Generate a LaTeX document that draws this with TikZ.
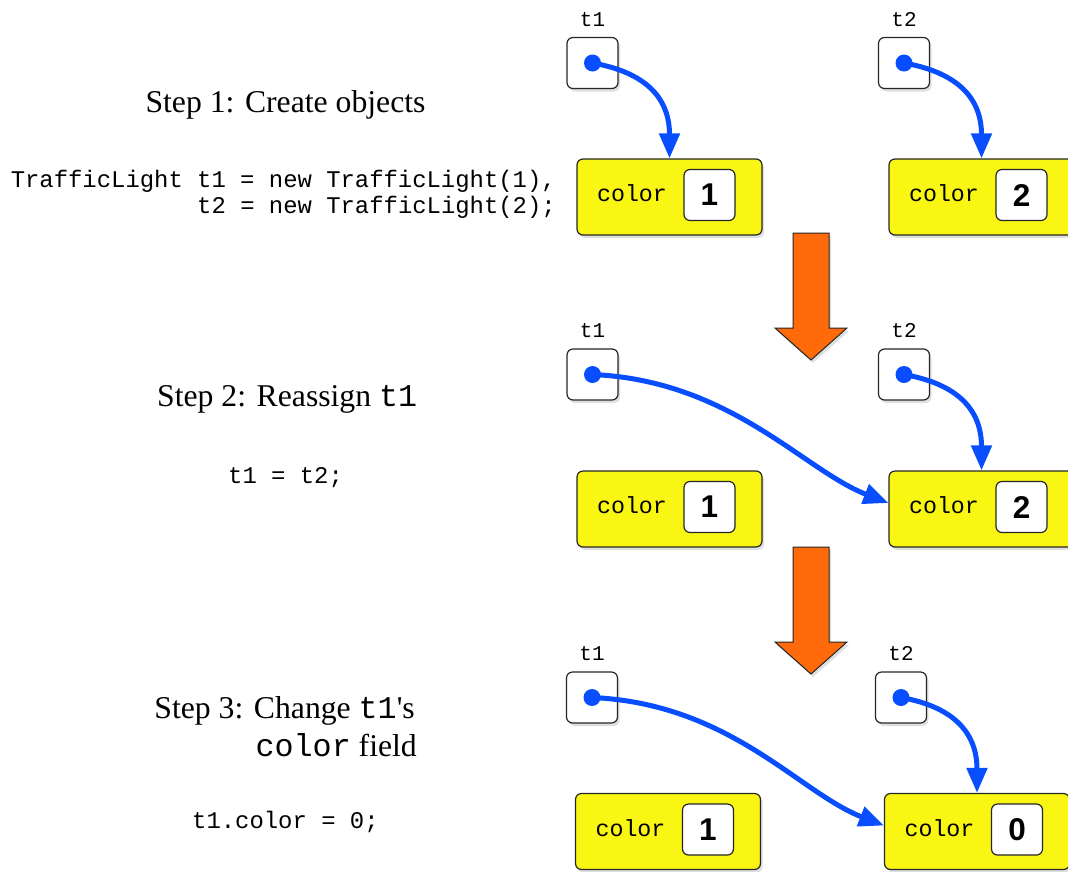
\documentclass[tikz,border=0pt]{standalone}
\usepackage{fontspec}
\setmainfont{Liberation Serif}
\setsansfont{Liberation Sans}
\setmonofont{Liberation Mono}
\usetikzlibrary{arrows.meta,shadows,positioning}
\definecolor{refblue}{RGB}{8,78,255}
\definecolor{objyellow}{RGB}{250,246,20}
\definecolor{steporange}{RGB}{255,106,10}

\begin{document}
\begin{tikzpicture}[x=1pt,y=1pt,
    shade/.style={drop shadow={shadow xshift=2pt,shadow yshift=-3pt,opacity=.25}},
    refbox/.style={draw=black!85,line width=1.2pt,fill=white,rounded corners=6pt,
      minimum width=51pt,minimum height=51pt,inner sep=0pt,shade},
    objbox/.style={draw=black!85,line width=1.2pt,fill=objyellow,rounded corners=6pt,
      minimum width=185pt,minimum height=76pt,inner sep=0pt,shade},
    valbox/.style={draw=black!85,line width=1.2pt,fill=white,rounded corners=6pt,
      minimum width=51pt,minimum height=51pt,inner sep=0pt,
      font=\fontsize{31.5}{31.5}\sffamily\bfseries},
    fieldlbl/.style={inner sep=0pt,anchor=base,font=\fontsize{23.3}{23.3}\ttfamily},
    varlbl/.style={inner sep=0pt,anchor=base,font=\fontsize{21}{21}\ttfamily},
    title/.style={inner sep=0pt,font=\fontsize{31.7}{31.7}\selectfont},
    code/.style={inner sep=0pt,font=\fontsize{23.9}{23.9}\ttfamily},
    ptr/.style={refblue,line width=5pt,-{Triangle[width=20pt,length=25pt]}},
    bigarrow/.style={draw=black!85,line width=1pt,fill=steporange,line join=miter,shade}]
  \useasboundingbox (0,0) rectangle (1068,-871);

  % left column: steps and code
  \node[title,anchor=base] (step1) at (285.5,-112) {Step 1: Create objects};
  \node[code,anchor=base east] (code1a) at (556,-187) {TrafficLight t1 = new TrafficLight(1),};
  \node[code,anchor=base east] (code1b) at (556,-213) {t2 = new TrafficLight(2);};
  \node[title,anchor=base west] (step2) at (157,-406) {Step 2: Reassign \texttt{t1}};
  \node[code,anchor=base west] (code2) at (228,-483) {t1 = t2;};
  \node[title,anchor=base east] (step3a) at (415,-718) {Step 3: Change \texttt{t1}\textquotesingle s};
  \node[title,anchor=base east] (step3b) at (417,-756) {\texttt{color} field};
  \node[code,anchor=base west] (code3) at (192,-828) {t1.color = 0;};

  % step 1
  \node[refbox] (p1a) at (592.5,-63) {};
  \node[refbox] (p1b) at (904,-63) {};
  \node[varlbl] at ([yshift=37pt]p1a.center) {t1};
  \node[varlbl] at ([yshift=37pt]p1b.center) {t2};
  \node[objbox] (o1a) at (669.5,-197) {};
  \node[objbox] (o1b) at (981.5,-197) {};
  \node[fieldlbl] (f1a) at ([xshift=-37.5pt,yshift=-4.5pt]o1a.center) {color};
  \node[fieldlbl] (f1b) at ([xshift=-37.5pt,yshift=-4.5pt]o1b.center) {color};
  \node[valbox] (v1a) at ([xshift=40pt,yshift=2pt]o1a.center) {1};
  \node[valbox] (v1b) at ([xshift=40pt,yshift=2pt]o1b.center) {2};
  \fill[refblue] (p1a.center) circle [radius=8.5pt];
  \fill[refblue] (p1b.center) circle [radius=8.5pt];
  \draw[ptr] (p1a.center) to[out=-10,in=90,looseness=1.2] (o1a.north);
  \draw[ptr] (p1b.center) to[out=-10,in=90,looseness=1.2] (o1b.north);

  \coordinate (a1) at (811,-233);
  \draw[bigarrow] (a1) ++(-18,0) -- ++(36,0) -- ++(0,-95) -- ++(18,0)
    -- ++(-36,-32) -- ++(-36,32) -- ++(18,0) -- cycle;

  % step 2
  \node[refbox] (p2a) at (592.5,-374.5) {};
  \node[refbox] (p2b) at (904,-374.5) {};
  \node[varlbl] at ([yshift=37pt]p2a.center) {t1};
  \node[varlbl] at ([yshift=37pt]p2b.center) {t2};
  \node[objbox] (o2a) at (669.5,-509) {};
  \node[objbox] (o2b) at (981.5,-509) {};
  \node[fieldlbl] (f2a) at ([xshift=-37.5pt,yshift=-4.5pt]o2a.center) {color};
  \node[fieldlbl] (f2b) at ([xshift=-37.5pt,yshift=-4.5pt]o2b.center) {color};
  \node[valbox] (v2a) at ([xshift=40pt,yshift=2pt]o2a.center) {1};
  \node[valbox] (v2b) at ([xshift=40pt,yshift=2pt]o2b.center) {2};
  \fill[refblue] (p2a.center) circle [radius=8.5pt];
  \fill[refblue] (p2b.center) circle [radius=8.5pt];
  \draw[ptr] (p2a.center) .. controls +(138,-6) and +(-85,33) .. ([yshift=6pt]o2b.west);
  \draw[ptr] (p2b.center) to[out=-10,in=90,looseness=1.2] (o2b.north);

  \coordinate (a2) at (811,-547);
  \draw[bigarrow] (a2) ++(-18,0) -- ++(36,0) -- ++(0,-95) -- ++(18,0)
    -- ++(-36,-32) -- ++(-36,32) -- ++(18,0) -- cycle;

  % step 3
  \node[refbox] (p3a) at (592,-697.5) {};
  \node[refbox] (p3b) at (901,-697.5) {};
  \node[varlbl] at ([yshift=37pt]p3a.center) {t1};
  \node[varlbl] at ([yshift=37pt]p3b.center) {t2};
  \node[objbox] (o3a) at (668,-831.5) {};
  \node[objbox] (o3b) at (977,-831.5) {};
  \node[fieldlbl] (f3a) at ([xshift=-37.5pt,yshift=-4.5pt]o3a.center) {color};
  \node[fieldlbl] (f3b) at ([xshift=-37.5pt,yshift=-4.5pt]o3b.center) {color};
  \node[valbox] (v3a) at ([xshift=40pt,yshift=2pt]o3a.center) {1};
  \node[valbox] (v3b) at ([xshift=40pt,yshift=2pt]o3b.center) {0};
  \fill[refblue] (p3a.center) circle [radius=8.5pt];
  \fill[refblue] (p3b.center) circle [radius=8.5pt];
  \draw[ptr] (p3a.center) .. controls +(138,-6) and +(-85,33) .. ([yshift=6pt]o3b.west);
  \draw[ptr] (p3b.center) to[out=-10,in=90,looseness=1.2] (o3b.north);
\end{tikzpicture}
\end{document}
